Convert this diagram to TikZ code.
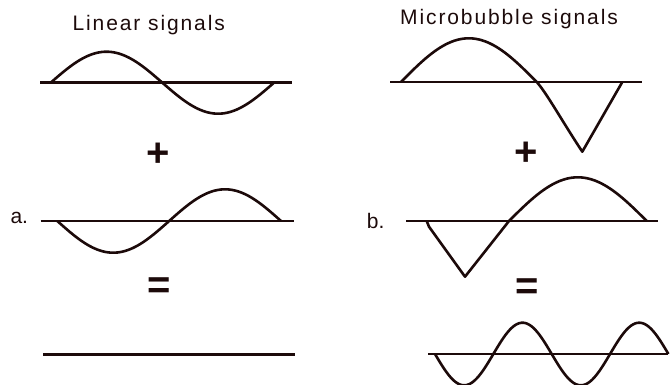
\documentclass[tikz,border=0pt]{standalone}
\usepackage{fontspec}
\setmainfont{Liberation Sans}
\newfontfamily\lbl[LetterSpace=9]{Liberation Sans}
\definecolor{ink}{RGB}{28,10,10}
\tikzset{
  wave/.style={draw=ink, line width=2.6pt, line join=round},
  axis/.style={draw=ink, line width=2.8pt},
  title/.style={inner sep=0pt, anchor=base west, font=\lbl\fontsize{21}{25}\selectfont, text=ink},
  tag/.style={inner sep=0pt, anchor=base west, font=\fontsize{21}{25}\selectfont, text=ink},
  sym/.style={inner sep=0pt, font=\bfseries\fontsize{40}{44}\selectfont, text=ink}
}
\begin{document}
\begin{tikzpicture}[x=1pt, y=-1pt]
\useasboundingbox (0,0) rectangle (670,385);

% titles and labels
\node[title] (tl) at (72.4,30.8) {Linear signals};
\node[title] (tr) at (400,25) {Microbubble signals};
\node[tag] (la) at (10.3,224) {a.};
\node[tag] (lb) at (366.7,229) {b.};
\node[sym] (pl) at (158,155) {+};
\node[sym] (pr) at (526.5,154) {+};
\node[sym] (el) at (158.7,288) {=};
\node[sym] (er) at (527.5,289) {=};

% left column
\draw[axis] (40,82.7) -- (291.7,82.7);
\draw[wave] plot[domain=50.7:274, samples=90, smooth] (\x,{82.7-31*sin(1.6122*(\x-50.7))});
\draw[axis] (40.7,221) -- (294,221);
\draw[wave] plot[domain=57.3:281, samples=90, smooth] (\x,{221+31.7*sin(1.6093*(\x-57.3))});
\draw[axis] (43.3,354.3) -- (295,354.3);

% right column
\draw[axis] (390,82) -- (642.3,82);
\draw[wave] plot[domain=401:536.7, samples=60, smooth] (\x,{82-43.7*sin(1.3265*(\x-401))})
  .. controls (546,92) and (562,121) .. (582.3,151.7) -- (622.3,82);
\draw[axis] (406,221) -- (657.7,221);
\draw[wave] (426.7,221) -- (429,226.7) -- (465,276.7) -- (509,221)
  plot[domain=509:646.7, samples=60, smooth] (\x,{221-43.7*sin(1.3072*(\x-509))});
\draw[axis] (428.3,354) -- (668,354);
\draw[wave] plot[domain=435:668.4, samples=120, smooth] (\x,{354+31.3*sin(3.0848*(\x-435))});
\end{tikzpicture}
\end{document}
